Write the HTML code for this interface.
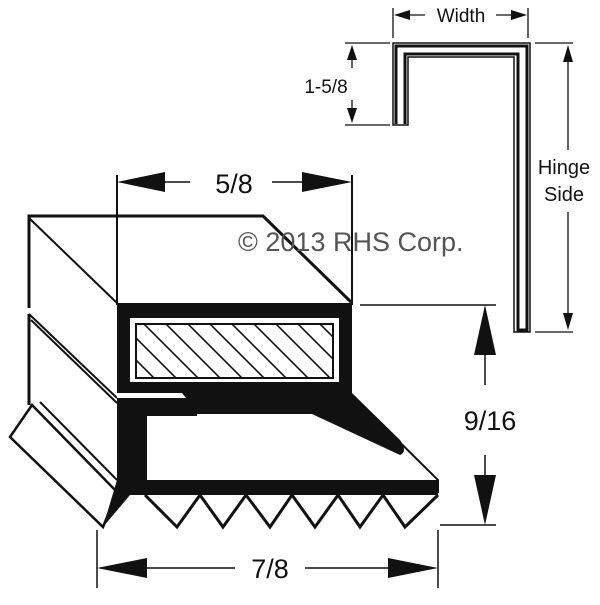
<!DOCTYPE html>
<html><head><style>body{margin:0;background:#fff}</style></head><body>
<svg width="600" height="600" viewBox="0 0 600 600" xmlns="http://www.w3.org/2000/svg" font-family="Liberation Sans, sans-serif">
<defs>
<clipPath id="hc"><rect x="137" y="325" width="196" height="53"/></clipPath>
</defs>
<g stroke="#111" fill="none" stroke-width="2">
<polyline points="29,308 29,216 263,216 352,303" stroke-width="3"/>
<line x1="29" y1="218" x2="117" y2="303"/>
<line x1="117" y1="175" x2="117" y2="305"/>
<line x1="352" y1="175" x2="352" y2="305"/>
<line x1="29" y1="314" x2="29" y2="405" stroke-width="3"/>
<line x1="29" y1="314" x2="117" y2="398"/>
<line x1="31" y1="320" x2="117" y2="403"/>
<polygon points="10,437 32,405 117,492 103,527" stroke-width="2.5"/>
<line x1="40" y1="402" x2="117" y2="480"/>
<polyline points="352,395 438,480 438,493"/>
</g>
<path d="M117,303H352V395H117Z M130,318V382H339V318Z" fill="#111" fill-rule="evenodd"/>
<rect x="136" y="324" width="197" height="54" fill="none" stroke="#111" stroke-width="2"/>
<g clip-path="url(#hc)" stroke="#111" stroke-width="1.6">
<line x1="120" y1="300" x2="200" y2="380"/><line x1="142" y1="300" x2="222" y2="380"/>
<line x1="164" y1="300" x2="244" y2="380"/><line x1="186" y1="300" x2="266" y2="380"/>
<line x1="208" y1="300" x2="288" y2="380"/><line x1="230" y1="300" x2="310" y2="380"/>
<line x1="252" y1="300" x2="332" y2="380"/><line x1="274" y1="300" x2="354" y2="380"/>
<line x1="296" y1="300" x2="376" y2="380"/><line x1="318" y1="300" x2="398" y2="380"/>
<line x1="98" y1="300" x2="178" y2="380"/><line x1="76" y1="300" x2="156" y2="380"/>
</g>
<path d="M117,393H352L400,440Q408,452 400,455L312,414H197V416H147V480H438V495H117Z" fill="#111"/>
<path d="M117,393H182L186,398H117Z" fill="#fff"/>
<g fill="#fff" stroke="#111" stroke-width="3">
<polyline points="145,495 177,527 200,495 223,527 246,495 270,527 292,495 315,527 338,495 360,527 383,495 405,527 438,495"/>
</g>
<path d="M117,480V495L103,527Z" fill="#111"/>
<path d="M117,493L103,527L130,495Z" fill="#111"/>
<g stroke="#111" stroke-width="1.5" fill="#111">
<line x1="160" y1="182" x2="190" y2="182"/><line x1="272" y1="182" x2="310" y2="182"/>
<polygon points="117,182 165,172 165,192" stroke="none"/>
<polygon points="352,182 302,172 302,192" stroke="none"/>
<line x1="360" y1="305" x2="496" y2="305"/>
<line x1="440" y1="525" x2="496" y2="525"/>
<line x1="485" y1="340" x2="485" y2="385"/><line x1="485" y1="455" x2="485" y2="490"/>
<polygon points="485,305 474,355 496,355" stroke="none"/>
<polygon points="485,525 474,475 496,475" stroke="none"/>
<line x1="97" y1="530" x2="97" y2="588"/><line x1="438" y1="530" x2="438" y2="588"/>
<line x1="140" y1="568" x2="235" y2="568"/><line x1="305" y1="568" x2="400" y2="568"/>
<polygon points="97,568 147,558 147,578" stroke="none"/>
<polygon points="438,568 388,558 388,578" stroke="none"/>
</g>
<g font-size="27" fill="#111">
<text x="234" y="193" text-anchor="middle">5/8</text>
<text x="490" y="430" text-anchor="middle">9/16</text>
<text x="270" y="578" text-anchor="middle">7/8</text>
</g>
<text x="238" y="251" font-size="27" fill="#555">© 2013 RHS Corp.</text>
<g fill="none" stroke="#111">
<path d="M393,125V43H530V332H514V57H408V125Z" fill="#fff" stroke-width="1.5"/>
<path d="M396,124V46H527V330H518V54H405V124" stroke-width="3"/>
</g>
<g stroke="#111" stroke-width="1.3" fill="#111">
<line x1="393" y1="8" x2="393" y2="38"/><line x1="528" y1="8" x2="528" y2="38"/>
<line x1="398" y1="15" x2="425" y2="15"/><line x1="496" y1="15" x2="524" y2="15"/>
<polygon points="394,15 410,10 410,20" stroke="none"/><polygon points="527,15 511,10 511,20" stroke="none"/>
<line x1="345" y1="43" x2="390" y2="43"/><line x1="345" y1="125" x2="390" y2="125"/>
<line x1="352" y1="55" x2="352" y2="68"/><line x1="352" y1="100" x2="352" y2="115"/>
<polygon points="352,45 347,60 357,60" stroke="none"/><polygon points="352,123 347,108 357,108" stroke="none"/>
<line x1="535" y1="43" x2="573" y2="43"/><line x1="535" y1="332" x2="573" y2="332"/>
<line x1="568" y1="55" x2="568" y2="150"/><line x1="568" y1="212" x2="568" y2="320"/>
<polygon points="568,45 563,62 573,62" stroke="none"/><polygon points="568,330 563,313 573,313" stroke="none"/>
</g>
<g font-size="19" fill="#111" text-anchor="middle">
<text x="461" y="22">Width</text>
<text x="326" y="93">1-5/8</text>
<text x="564" y="174" font-size="20">Hinge</text>
<text x="564" y="201" font-size="20">Side</text>
</g>
</svg>
</body></html>
